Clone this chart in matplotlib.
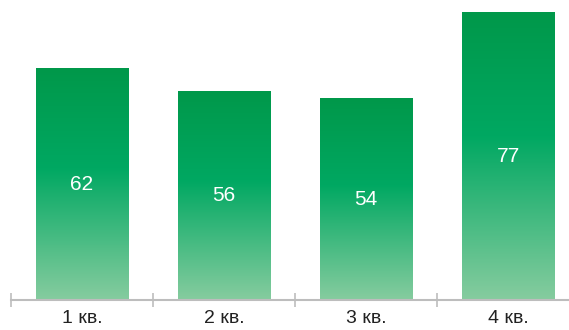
import matplotlib.pyplot as plt
import numpy as np
from matplotlib.colors import LinearSegmentedColormap

quarters = ['1 кв.', '2 кв.', '3 кв.', '4 кв.']
values = [62, 56, 54, 77]

# colours
grad_top = '#00984a'
grad_mid = '#00a862'
grad_bottom = '#86cc9f'
axis_color = '#bdbdbd'
text_color = '#222222'
bar_width = 0.648

plt.rcParams.update({'font.family': ['Liberation Sans', 'DejaVu Sans']})

cmap = LinearSegmentedColormap.from_list(
    'bar_grad', [(0.0, grad_bottom), (0.57, grad_mid), (1.0, grad_top)])

fig = plt.figure(figsize=(5.69, 3.30), dpi=100)
ax = fig.add_axes([11 / 569, 30 / 330, 568 / 569, 299.2 / 330])

x = np.arange(len(values))
bars = ax.bar(x, values, width=bar_width, color='none', edgecolor='none')

grad = np.linspace(0, 1, 256).reshape(-1, 1)
for rect, v in zip(bars, values):
    x0 = rect.get_x()
    im = ax.imshow(grad, cmap=cmap, origin='lower', aspect='auto',
                   extent=(x0, x0 + rect.get_width(), 0, v),
                   interpolation='bicubic', zorder=2)
    im.set_clip_path(rect)
    ax.text(rect.get_x() + rect.get_width() / 2, v / 2, str(v),
            ha='center', va='center', color='white', fontsize=15, zorder=3)

ax.set_xlim(-0.5, len(values) - 0.5)
ax.set_ylim(0, 80)

for side in ['top', 'right', 'left']:
    ax.spines[side].set_visible(False)
ax.spines['bottom'].set_color(axis_color)
ax.spines['bottom'].set_linewidth(1.5)
ax.spines['bottom'].set_zorder(4)

ax.set_yticks([])
ax.set_xticks(np.arange(len(values) + 1) - 0.5)
ax.set_xticklabels([])
ax.tick_params(axis='x', which='major', direction='inout', length=10,
               width=1.2, color=axis_color)
ax.set_xticks(x, minor=True)
ax.set_xticklabels(quarters, minor=True)
ax.tick_params(axis='x', which='minor', length=0, pad=7,
               labelsize=14, labelcolor=text_color)

fig.savefig('out.png', dpi=100)
